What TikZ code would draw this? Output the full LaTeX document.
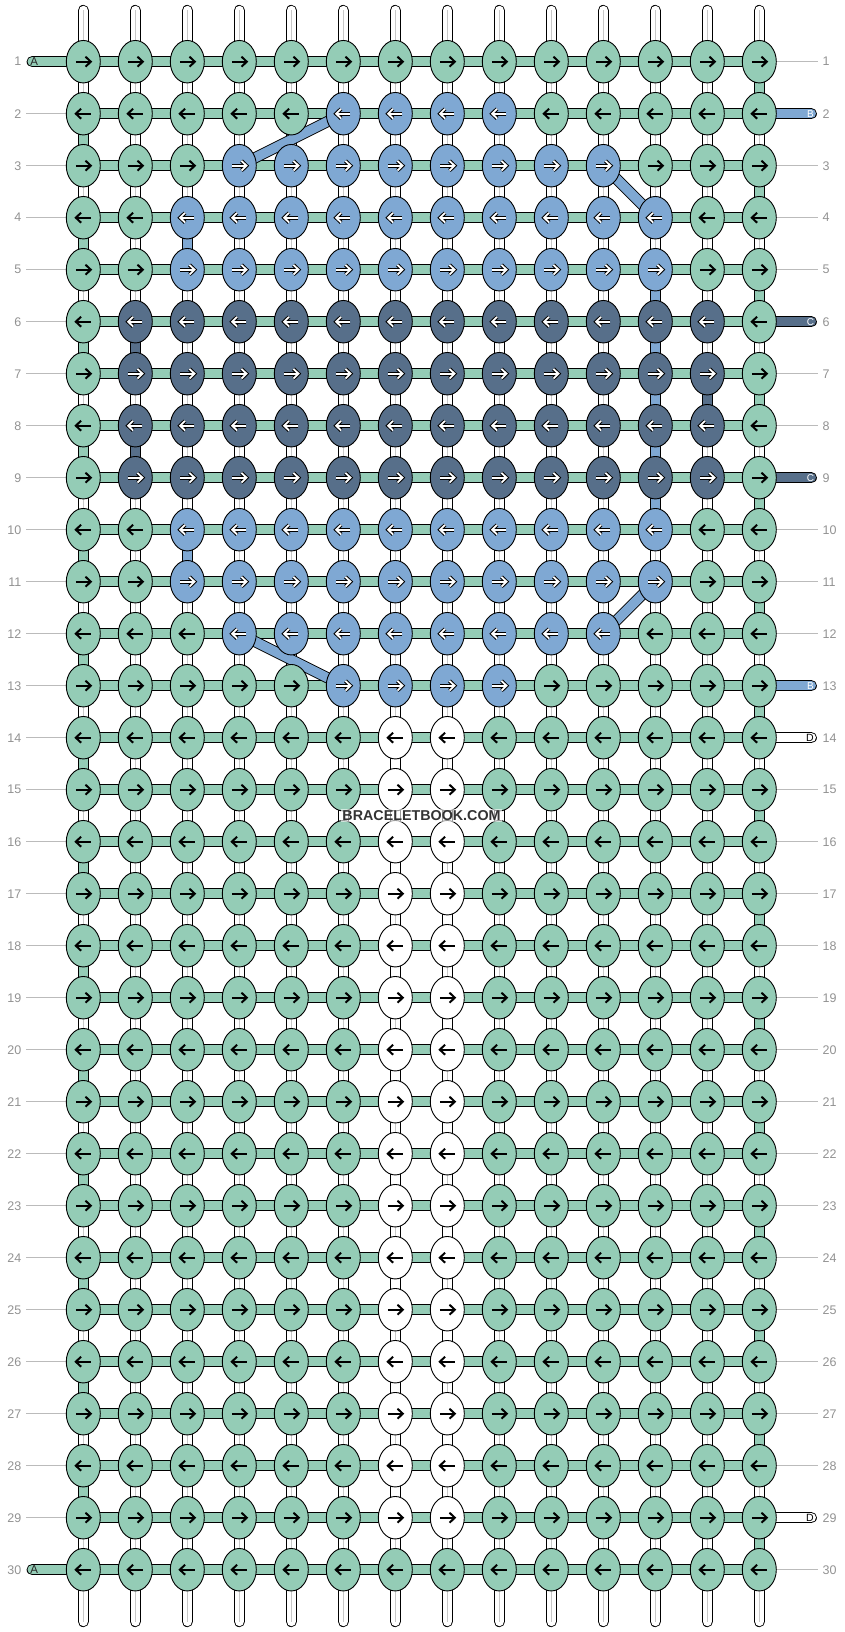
\documentclass[tikz,border=0pt]{standalone}
\usepackage{fontspec}
\setmainfont{Liberation Sans}
\usetikzlibrary{shapes.geometric}
\pgfdeclarelayer{bg}
\pgfsetlayers{bg,main}
\definecolor{ga}{HTML}{94CCB6}
\definecolor{gb}{HTML}{7FA8D3}
\definecolor{gc}{HTML}{576F8A}
\definecolor{labc}{HTML}{929292}
\definecolor{linc}{HTML}{BBBBBB}
\definecolor{midc}{HTML}{C8C8C8}
\definecolor{wmc}{HTML}{333333}
\newcommand\knotset[6]{\ifnum\r<#1 \else\ifnum\r>#2 \else\ifnum\c<#3 \else\ifnum\c>#4 \else\def\kf{#5}\def\inv{#6}\fi\fi\fi\fi}
\tikzset{
  knot/.style={ellipse, draw=black, line width=0.9pt, minimum width=34pt, minimum height=42.5pt, inner sep=0pt, outer sep=0pt},
  tube/.style={line width=0.9pt, double distance=9.4pt},
  arrblack/.style={draw=black, line width=2pt},
  arrout/.style={draw=black, line width=3.8pt, line cap=square},
  arrin/.style={draw=white, line width=1.8pt},
  rowlab/.style={text=labc, font=\fontsize{12.5}{12.5}\selectfont, inner sep=0pt},
  guide/.style={draw=linc, line width=1pt},
  tailtxt/.style={inner sep=0pt},
}
\begin{document}
\begin{tikzpicture}[x=1pt,y=-1pt]
\useasboundingbox (0,0) rectangle (844,1632);
% knots
\foreach \r in {1,...,30}{
  \foreach \c in {1,...,14}{
    \pgfmathsetmacro\X{31.3+52*\c}
    \pgfmathsetmacro\Y{9.7+52*\r}
    \def\kf{ga}\def\inv{0}
    \knotset{2}{2}{6}{9}{gb}{1}
    \knotset{13}{13}{6}{9}{gb}{1}
    \knotset{3}{3}{4}{11}{gb}{1}
    \knotset{12}{12}{4}{11}{gb}{1}
    \knotset{4}{5}{3}{12}{gb}{1}
    \knotset{10}{11}{3}{12}{gb}{1}
    \knotset{6}{9}{2}{13}{gc}{1}
    \knotset{14}{29}{7}{8}{white}{0}
    \node[knot, fill=\kf] (k-\c-\r) at (\X,\Y) {};
    \ifodd\r \def\s{1}\else\def\s{-1}\fi
    \begin{scope}[shift={(\X,\Y)}, xscale=\s]
      \ifnum\inv=1
        \draw[arrout] (-7,0) -- (6,0);
        \draw[arrout] (2.2,-4.8) -- (7.2,0) -- (2.2,4.8);
        \draw[arrin] (-7,0) -- (6,0);
        \draw[arrin] (2.2,-4.8) -- (7.2,0) -- (2.2,4.8);
      \else
        \draw[arrblack] (-7.5,0) -- (6.5,0);
        \draw[arrblack] (2.2,-5) -- (7.5,0) -- (2.2,5);
      \fi
    \end{scope}
  }
  \pgfmathsetmacro\Y{9.7+52*\r}
  \node[rowlab, anchor=east] (ln-\r) at (21.5,\Y) {\r};
  \node[rowlab, anchor=west] (rn-\r) at (822.5,\Y) {\r};
}
% tails text
\node[tailtxt, text=black!85, font=\fontsize{11.5}{11.5}\selectfont] (ta-1) at (34.2,61.7) {A};
\node[tailtxt, text=black!85, font=\fontsize{11.5}{11.5}\selectfont] (ta-30) at (34.2,1569.7) {A};
\node[tailtxt, text=white, font=\fontsize{10}{10}\selectfont] (tb-2) at (810.5,113.7) {B};
\node[tailtxt, text=white, font=\fontsize{10}{10}\selectfont] (tb-13) at (810.5,685.7) {B};
\node[tailtxt, text=white, font=\fontsize{10}{10}\selectfont] (tc-6) at (810.5,321.7) {C};
\node[tailtxt, text=white, font=\fontsize{10}{10}\selectfont] (tc-9) at (810.5,477.7) {C};
\node[tailtxt, text=black, font=\fontsize{10.5}{10.5}\selectfont] (td-14) at (810,737.7) {D};
\node[tailtxt, text=black, font=\fontsize{10.5}{10.5}\selectfont] (td-29) at (810,1517.7) {D};
% watermark
\node[fill=white, fill opacity=0.6, text opacity=1, text=wmc, font=\bfseries\fontsize{14.3}{14.3}\selectfont, inner sep=1.2pt] (wm) at (421.5,815.7) {BRACELETBOOK.COM};

\begin{pgfonlayer}{bg}
  % vertical strands
  \foreach \c in {1,...,14}{
    \pgfmathsetmacro\X{31.3+52*\c}
    \coordinate (top-\c) at (\X,10.5);
    \coordinate (bot-\c) at (\X,1621.5);
    \draw[tube, double=white, line cap=round] (top-\c) -- (bot-\c);
    \draw[draw=midc, line width=0.8pt] (top-\c) -- (bot-\c);
  }
  % coloured vertical segments
  \foreach \c/\r/\col in {3/4/gb, 12/5/gb, 12/6/gb, 12/7/gb, 12/8/gb, 12/9/gb, 3/10/gb, 2/6/gc, 13/7/gc, 2/8/gc}{
    \pgfmathtruncatemacro\rn{\r+1}
    \draw[tube, double=\col] (k-\c-\r.center) -- (k-\c-\rn.center);
  }
  \foreach \r in {1,3,...,29}{
    \pgfmathtruncatemacro\rn{\r+1}
    \draw[tube, double=ga] (k-14-\r.center) -- (k-14-\rn.center);
  }
  \foreach \r in {2,4,...,28}{
    \pgfmathtruncatemacro\rn{\r+1}
    \draw[tube, double=ga] (k-1-\r.center) -- (k-1-\rn.center);
  }
  \foreach \r in {14,16,...,28}{
    \pgfmathtruncatemacro\rn{\r+1}
    \draw[tube, double=white] (k-7-\r.center) -- (k-7-\rn.center);
  }
  \foreach \r in {15,17,...,27}{
    \pgfmathtruncatemacro\rn{\r+1}
    \draw[tube, double=white] (k-8-\r.center) -- (k-8-\rn.center);
  }
  % horizontal working strand
  \foreach \r in {1,...,30}{
    \draw[tube, double=ga] (k-1-\r.center) -- (k-14-\r.center);
  }
  % diagonals
  \draw[tube, double=gb] (k-6-2.center) -- (k-4-3.center);
  \draw[tube, double=gb] (k-11-3.center) -- (k-12-4.center);
  \draw[tube, double=gb] (k-12-11.center) -- (k-11-12.center);
  \draw[tube, double=gb] (k-4-12.center) -- (k-6-13.center);
  % tails
  \coordinate (tl-1) at (32.2,61.7);
  \coordinate (tl-30) at (32.2,1569.7);
  \draw[tube, double=ga, line cap=round] (k-1-1.center) -- (tl-1);
  \draw[tube, double=ga, line cap=round] (k-1-30.center) -- (tl-30);
  \foreach \r/\col in {2/gb, 13/gb, 6/gc, 9/gc, 14/white, 29/white}{
    \pgfmathsetmacro\Y{9.7+52*\r}
    \coordinate (tr-\r) at (811.3,\Y);
    \draw[tube, double=\col, line cap=round] (k-14-\r.center) -- (tr-\r);
  }
  % guide lines
  \foreach \r in {2,...,29}{
    \pgfmathsetmacro\Y{9.7+52*\r}
    \coordinate (gl-\r) at (26,\Y);
    \draw[guide] (gl-\r) -- (k-1-\r.center);
  }
  \foreach \r in {1,3,4,5,7,8,10,11,12,15,16,...,28,30}{
    \pgfmathsetmacro\Y{9.7+52*\r}
    \coordinate (gr-\r) at (818,\Y);
    \draw[guide] (k-14-\r.center) -- (gr-\r);
  }
\end{pgfonlayer}
\end{tikzpicture}
\end{document}
